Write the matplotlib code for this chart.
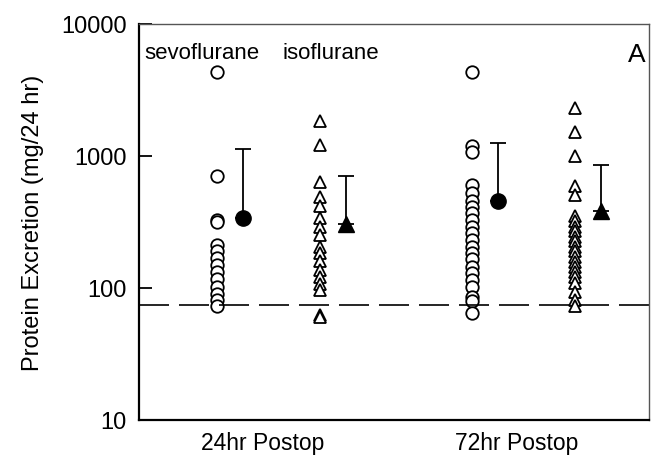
import numpy as np
import matplotlib.pyplot as plt

plt.rcParams['font.family'] = ['Liberation Sans', 'DejaVu Sans']

# individual patient values (mg/24 hr)
sevo_24 = [4300, 700, 330, 315, 210, 190, 168, 150, 132, 117, 102, 90, 81, 73]
iso_24 = [1850, 1220, 640, 490, 420, 340, 290, 250, 205, 185, 160, 137, 122,
          108, 97, 62, 60]
sevo_72 = [4300, 1200, 1080, 600, 520, 460, 410, 370, 330, 290, 260, 230, 205,
           185, 165, 145, 130, 115, 102, 85, 80, 65]
iso_72 = [2300, 1530, 1000, 590, 510, 350, 320, 290, 270, 245, 225, 205, 190,
          173, 158, 145, 133, 122, 109, 94, 81, 73]

# group means and upper error values
means = [340, 305, 460, 385]
upper = [1130, 700, 1260, 860]

normal_limit = 74
group_labels = ["24hr Postop", "72hr Postop"]

fig = plt.figure(figsize=(6.52, 4.56), dpi=100)
ax = fig.add_axes([0.2132, 0.0768, 0.7822, 0.8684])

scatter_x = [1.52, 3.54, 6.52, 8.54]
mean_off = 0.52
groups = [sevo_24, iso_24, sevo_72, iso_72]
markers = ['o', '^', 'o', '^']

for x, vals, m in zip(scatter_x, groups, markers):
    ax.plot([x] * len(vals), vals, linestyle='none', marker=m, markersize=9,
            markerfacecolor='white', markeredgecolor='black', markeredgewidth=1.3)

for x, mu, up, m in zip(scatter_x, means, upper, markers):
    ax.errorbar(x + mean_off, mu, yerr=[[0], [up - mu]], fmt=m, color='black',
                markersize=11, elinewidth=1.3, capsize=6, capthick=1.3)

ax.axhline(normal_limit, color='black', lw=1.2, dashes=(18, 6))

ax.set_yscale('log')
ax.set_ylim(10, 10000)
ax.set_xlim(0, 10)
ax.set_yticks([10, 100, 1000, 10000])
ax.set_yticklabels(["10", "100", "1000", "10000"])
ax.minorticks_off()
ax.tick_params(axis='y', direction='in', length=9, width=1.3, pad=9, labelsize=17)
ax.set_xticks([2.43, 7.41])
ax.set_xticklabels(group_labels)
ax.tick_params(axis='x', length=0, pad=8, labelsize=16.5)

ax.set_ylabel("Protein Excretion (mg/24 hr)", fontsize=17, labelpad=12)

ax.text(0.01, 0.955, "sevoflurane", transform=ax.transAxes, fontsize=16,
        va='top', ha='left')
ax.text(0.282, 0.955, "isoflurane", transform=ax.transAxes, fontsize=16,
        va='top', ha='left')
ax.text(0.994, 0.955, "A", transform=ax.transAxes, fontsize=19,
        va='top', ha='right')

for side in ['left', 'bottom']:
    ax.spines[side].set_linewidth(1.6)
for side in ['top', 'right']:
    ax.spines[side].set_linewidth(1.0)
    ax.spines[side].set_color('#555555')

fig.savefig("out.png", dpi=100)
